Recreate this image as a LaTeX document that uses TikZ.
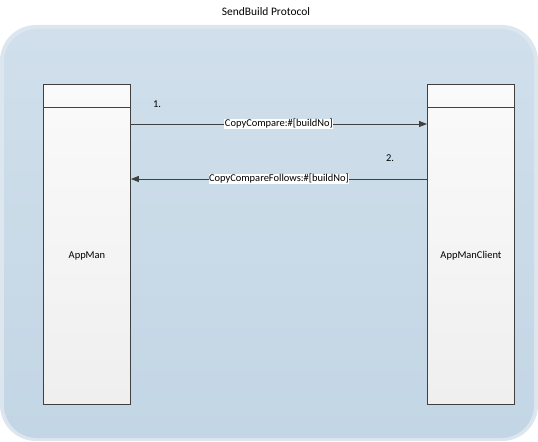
\documentclass[tikz,border=0pt]{standalone}
\usepackage{fontspec}
\setmainfont{Carlito}
\usetikzlibrary{arrows.meta,calc}
\definecolor{bgborder}{HTML}{DCE6EF}
\definecolor{bgtop}{HTML}{D0DFEB}
\definecolor{bgbot}{HTML}{C3D6E5}
\definecolor{boxline}{HTML}{404040}
\definecolor{boxtop}{HTML}{FAFAFA}
\definecolor{boxbot}{HTML}{EFEFEF}
\tikzset{
  lifebox/.style={draw=boxline, line width=0.9bp, top color=boxtop, bottom color=boxbot, minimum width=87bp, minimum height=320bp, inner sep=0pt},
  msg/.style={draw=boxline, line width=0.8bp, -{Triangle[length=8bp,width=6bp]}},
  msglabel/.style={fill=white, inner sep=0.5bp, font=\fontsize{10.5}{12}\selectfont},
  txt/.style={font=\fontsize{10.5}{12}\selectfont, inner sep=0pt}
}
\begin{document}
\begin{tikzpicture}[x=1bp,y=-1bp]
\useasboundingbox (0,0) rectangle (538,442);
% background panel
\fill[bgborder, rounded corners=36bp] (0,25) rectangle (538,441);
\shade[top color=bgtop, bottom color=bgbot, rounded corners=33bp] (4,29) rectangle (534,438);
\node[font=\fontsize{11.5}{13}\selectfont] (title) at (266,12) {SendBuild Protocol};
% lifelines
\node[lifebox, anchor=north west] (appman) at (43,84) {};
\node[lifebox, anchor=north west] (client) at (427,84) {};
\draw[boxline, line width=0.9bp] (appman.north west) ++(0,23) coordinate (aL) -- (aL -| appman.east);
\draw[boxline, line width=0.9bp] (client.north west) ++(0,23) coordinate (cL) -- (cL -| client.east);
\node[txt] (appmanlbl) at ($(aL)!0.5!(appman.south east)$) {AppMan};
\node[txt] (clientlbl) at ($(cL)!0.5!(client.south east)$) {AppManClient};
% messages
\coordinate (m1s) at (appman.east |- 0,124);
\coordinate (m1e) at (client.west |- 0,124);
\draw[msg] (m1s) -- node[msglabel] (l1) {CopyCompare:\#[buildNo]} (m1e);
\coordinate (m2s) at (client.west |- 0,179);
\coordinate (m2e) at (appman.east |- 0,179);
\draw[msg] (m2s) -- node[msglabel] (l2) {CopyCompareFollows:\#[buildNo]} (m2e);
\node[txt] (n1) at (157,104) {1.};
\node[txt] (n2) at (390,158) {2.};
\end{tikzpicture}
\end{document}
